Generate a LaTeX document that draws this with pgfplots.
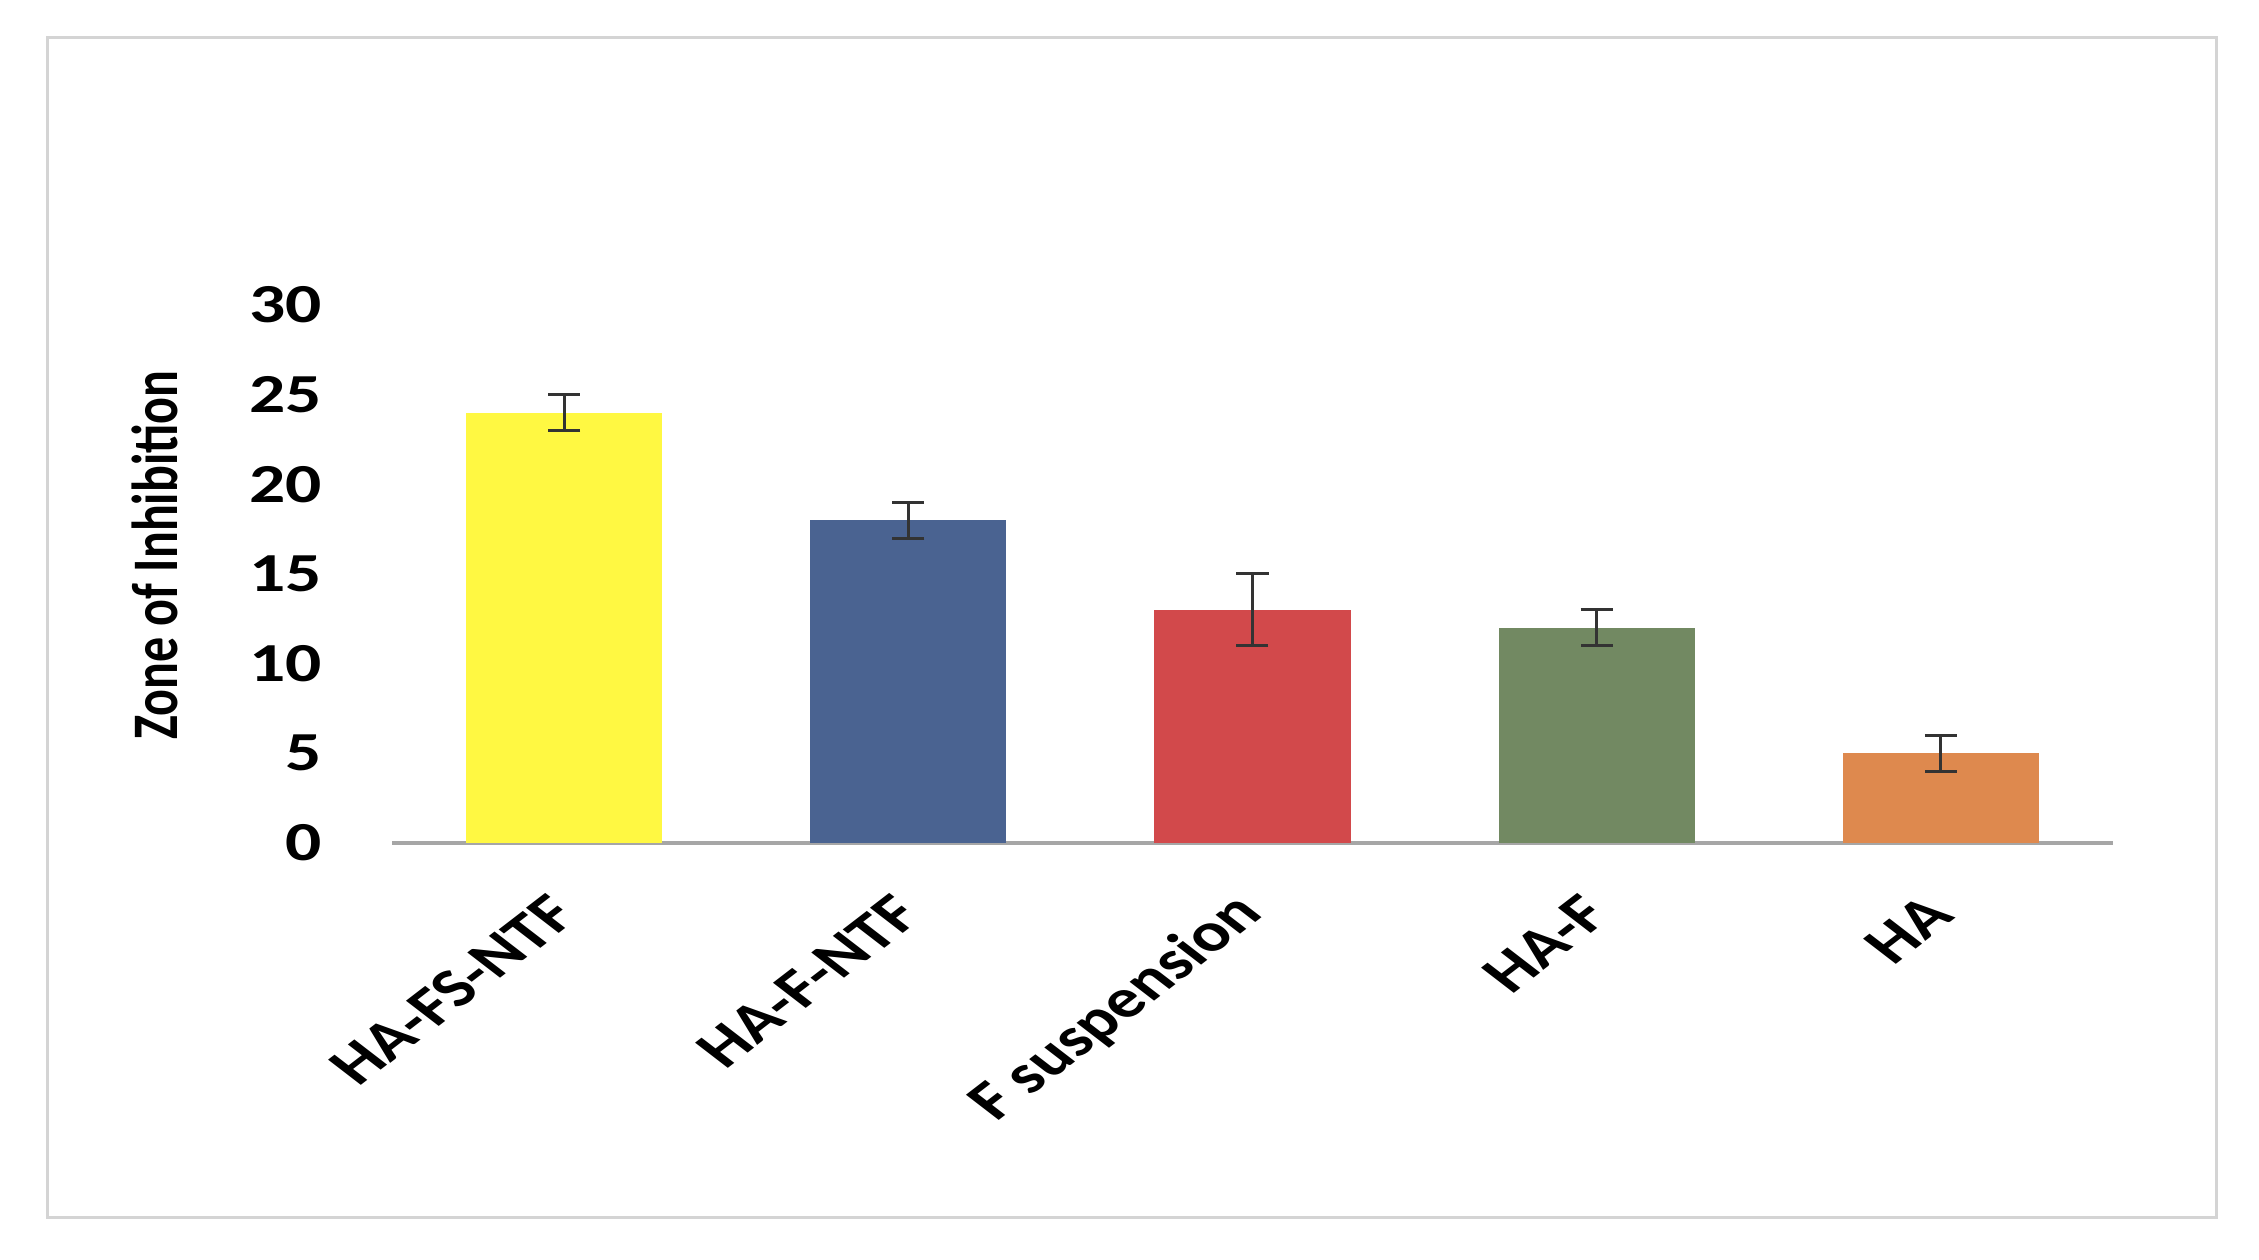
\documentclass[border=0pt]{standalone}
\usepackage{fontspec}
\setmainfont{Carlito}
\usepackage{pgfplots}
\pgfplotsset{compat=1.18}

\definecolor{barYellow}{RGB}{255,248,66}
\definecolor{barBlue}{RGB}{74,99,145}
\definecolor{barRed}{RGB}{210,73,75}
\definecolor{barGreen}{RGB}{114,137,98}
\definecolor{barOrange}{RGB}{222,137,78}

\pgfplotsset{
  errstyle/.style={
    error bars/.cd, y dir=both, y explicit,
    error bar style={draw=black!80, line width=0.6pt},
    error mark options={draw=black!80, line width=0.6pt, mark size=3.2pt, rotate=90}
  }
}

\begin{document}
\begin{tikzpicture}
% page frame, 1px = 0.2pt
\useasboundingbox (0,0) rectangle (2259*0.2pt,-1260*0.2pt);
\draw[black!17, line width=0.6pt] (47*0.2pt,-38*0.2pt) rectangle (2216*0.2pt,-1218*0.2pt);

\begin{axis}[
    at={(392*0.2pt,-843*0.2pt)}, anchor=south west,
    scale only axis, width=344.2pt, height=107.6pt,
    xmin=-0.5, xmax=4.5, ymin=0, ymax=30,
    ybar, bar width=0.57, bar shift=0pt,
    axis x line*=bottom, axis y line*=left,
    y axis line style={draw=none},
    x axis line style={draw=black!35, line width=0.7pt},
    major tick length=0pt,
    ytick={0,5,...,30},
    xtick={0,1,2,3,4},
    xticklabels={HA-FS-NTF, HA-F-NTF, F suspension, HA-F, HA},
    /pgf/number format/assume math mode=true,
    yticklabel style={xshift=-9.5pt, xscale=1.3, font=\fontsize{11}{11}\selectfont\bfseries},
    xticklabel style={anchor=east, xshift=3pt, yshift=-10pt, xscale=1.3, rotate=45,
                      font=\fontsize{11}{11}\selectfont\bfseries},
    ylabel={Zone of Inhibition},
    every axis y label/.style={at={(axis description cs:-0.138,0.535)}, anchor=center,
                               xscale=1.3, rotate=90,
                               font=\fontsize{10}{10}\selectfont\bfseries},
]
\addplot[fill=barYellow, draw=none, errstyle] coordinates {(0,24) +- (0,1)};
\addplot[fill=barBlue, draw=none, errstyle] coordinates {(1,18) +- (0,1)};
\addplot[fill=barRed, draw=none, errstyle] coordinates {(2,13) +- (0,2)};
\addplot[fill=barGreen, draw=none, errstyle] coordinates {(3,12) +- (0,1)};
\addplot[fill=barOrange, draw=none, errstyle] coordinates {(4,5) +- (0,1)};
\end{axis}
\end{tikzpicture}
\end{document}
